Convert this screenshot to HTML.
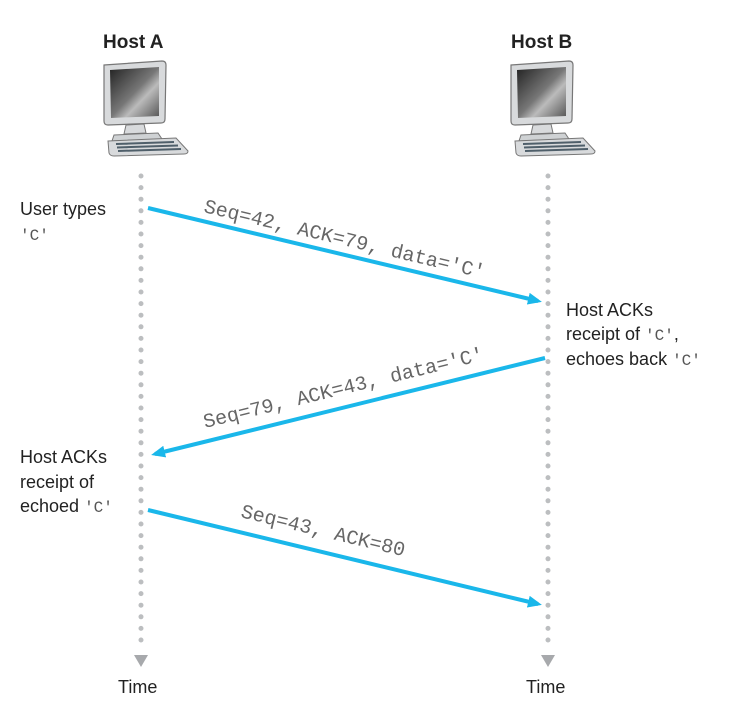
<!DOCTYPE html>
<html><head><meta charset="utf-8"><style>
html,body{margin:0;padding:0;background:#fff;}
svg{display:block;}
.s{font-family:"Liberation Sans",sans-serif;font-size:18px;fill:#222;}
.m{font-family:"Liberation Mono",monospace;font-size:20px;fill:#666;}
.mi{font-family:"Liberation Mono",monospace;font-size:16px;fill:#555;}
</style></head><body>
<svg width="737" height="708" viewBox="0 0 737 708" xmlns="http://www.w3.org/2000/svg">
<defs>
<linearGradient id="scr" x1="0" y1="0" x2="1" y2="1">
<stop offset="0" stop-color="#222"/><stop offset="0.5" stop-color="#777"/><stop offset="0.65" stop-color="#bbb"/><stop offset="1" stop-color="#555"/>
</linearGradient>
<g id="pc">
<path d="M2,4 L60,0 Q64,0 64,4 L63,58 Q63,62 59,62 L6,64 Q2,64 2,60 Z" fill="#d8dadc" stroke="#777" stroke-width="1.2"/>
<path d="M8,9 L57,6 L57,55 L9,57 Z" fill="url(#scr)"/>
<path d="M24,64 L42,63 L44,72 L22,73 Z" fill="#d8dadc" stroke="#777" stroke-width="1"/>
<path d="M12,74 L56,72 L60,78 L10,80 Z" fill="#cfd2d4" stroke="#777" stroke-width="1"/>
<path d="M6,80 L74,77 L86,90 Q86,93 82,93 L12,95 Q8,95 7,92 Z" fill="#d8dadc" stroke="#777" stroke-width="1"/>
<path d="M14,83 L72,81 M15,86.5 L76,84.5 M16,90 L79,88" stroke="#4f5f6a" stroke-width="2"/>
</g>
<marker id="ah" markerWidth="14" markerHeight="12" refX="10" refY="6" orient="auto" markerUnits="userSpaceOnUse">
<path d="M0,0 L14,6 L0,12 Z" fill="#1ab7ea"/>
</marker>
</defs>

<text x="103" y="48" class="s" style="font-weight:bold;font-size:19px">Host A</text>
<text x="511" y="48" class="s" style="font-weight:bold;font-size:19px">Host B</text>
<use href="#pc" x="102" y="61"/>
<use href="#pc" x="509" y="61"/>

<line x1="141" y1="176" x2="141" y2="650" stroke="#bcbec0" stroke-width="5" stroke-linecap="round" stroke-dasharray="0 11.6"/>
<line x1="548" y1="176" x2="548" y2="650" stroke="#bcbec0" stroke-width="5" stroke-linecap="round" stroke-dasharray="0 11.6"/>
<path d="M134,655 L148,655 L141,667 Z" fill="#a7a9ac"/>
<path d="M541,655 L555,655 L548,667 Z" fill="#a7a9ac"/>
<text x="118" y="693" class="s">Time</text>
<text x="526" y="693" class="s">Time</text>

<line x1="148" y1="208" x2="538" y2="301" stroke="#1ab7ea" stroke-width="4" marker-end="url(#ah)"/>
<line x1="545" y1="358" x2="155" y2="454" stroke="#1ab7ea" stroke-width="4" marker-end="url(#ah)"/>
<line x1="148" y1="510" x2="538" y2="604" stroke="#1ab7ea" stroke-width="4" marker-end="url(#ah)"/>

<text class="m" transform="translate(203,212) rotate(13.3)">Seq=42, ACK=79, data='C'</text>
<text class="m" transform="translate(205,428) rotate(-13.7)">Seq=79, ACK=43, data='C'</text>
<text class="m" transform="translate(240,517) rotate(13.5)">Seq=43, ACK=80</text>

<text x="20" y="215" class="s">User types</text>
<text x="20" y="240" class="mi">'C'</text>

<text x="566" y="316" class="s">Host ACKs</text>
<text x="566" y="340" class="s">receipt of <tspan class="mi">'C'</tspan>,</text>
<text x="566" y="365" class="s">echoes back <tspan class="mi">'C'</tspan></text>

<text x="20" y="463" class="s">Host ACKs</text>
<text x="20" y="488" class="s">receipt of</text>
<text x="20" y="512" class="s">echoed <tspan class="mi">'C'</tspan></text>
</svg>
</body></html>
